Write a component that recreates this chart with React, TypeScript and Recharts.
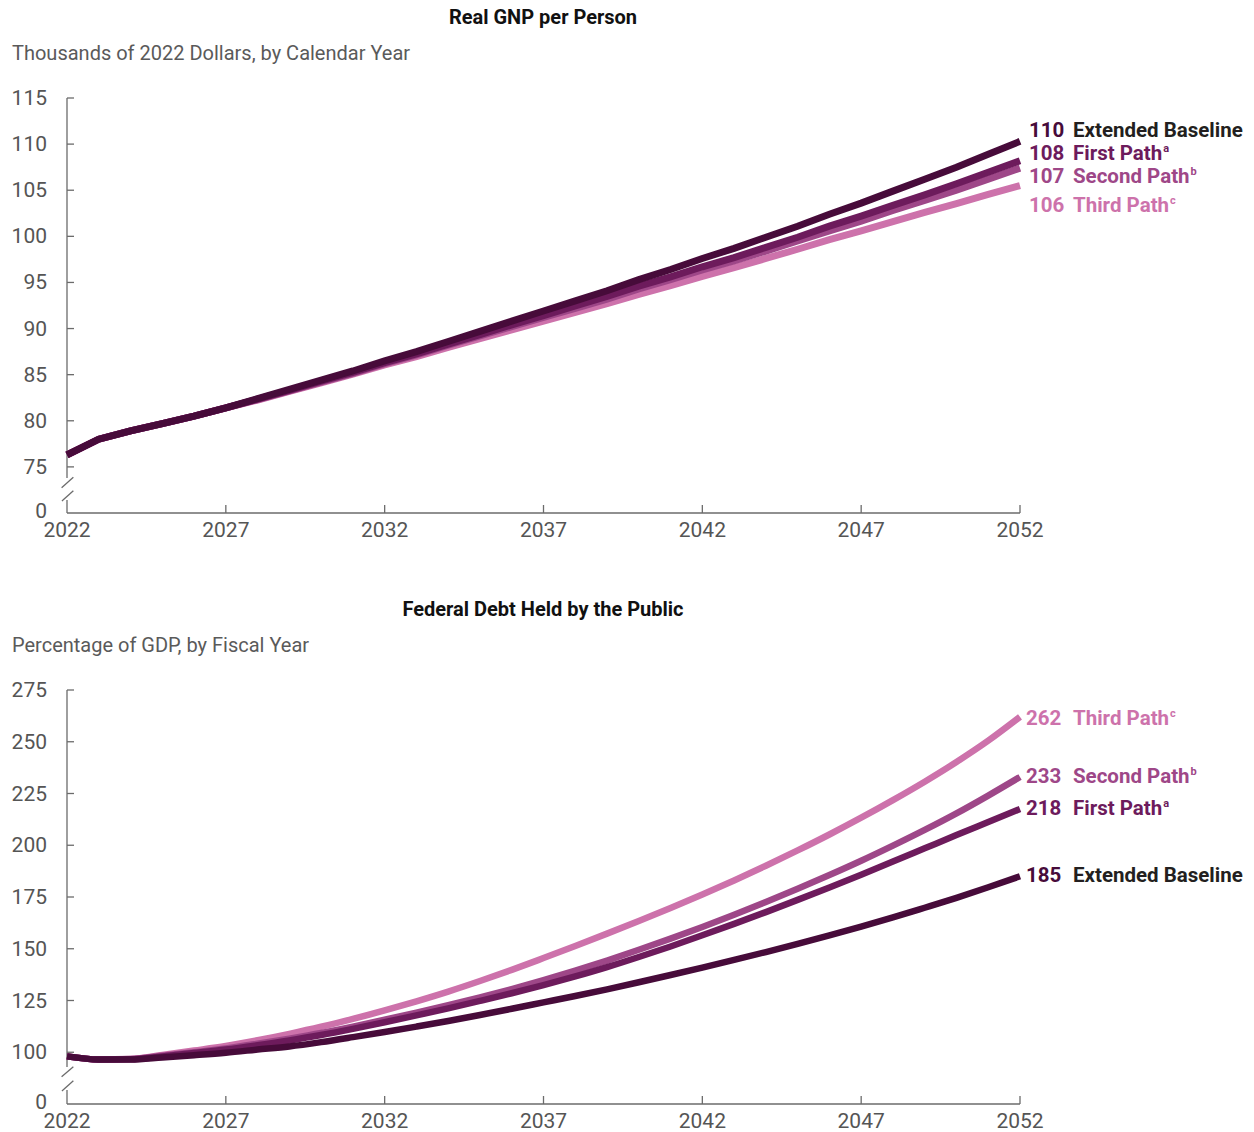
import React from 'react';
import { LineChart, Line, XAxis, YAxis, ReferenceLine } from 'recharts';

const years = [2022, 2023, 2024, 2025, 2026, 2027, 2028, 2029, 2030, 2031, 2032, 2033, 2034, 2035, 2036, 2037, 2038, 2039, 2040, 2041, 2042, 2043, 2044, 2045, 2046, 2047, 2048, 2049, 2050, 2051, 2052];

const gnpBaseline = [76.3, 78.0, 78.9, 79.7, 80.5, 81.4, 82.4, 83.4, 84.4, 85.4, 86.5, 87.5, 88.6, 89.7, 90.8, 91.9, 93.0, 94.1, 95.3, 96.4, 97.6, 98.7, 99.9, 101.1, 102.4, 103.6, 104.9, 106.2, 107.5, 108.9, 110.3];
const gnpFirst = [76.3, 78.0, 78.9, 79.7, 80.5, 81.4, 82.35, 83.3, 84.3, 85.25, 86.3, 87.25, 88.3, 89.35, 90.4, 91.4, 92.45, 93.5, 94.6, 95.6, 96.7, 97.7, 98.8, 99.9, 101.1, 102.2, 103.35, 104.5, 105.7, 106.95, 108.2];
const gnpSecond = [76.3, 78.0, 78.9, 79.7, 80.5, 81.4, 82.3, 83.25, 84.2, 85.15, 86.2, 87.15, 88.2, 89.2, 90.2, 91.2, 92.2, 93.2, 94.3, 95.3, 96.35, 97.35, 98.4, 99.5, 100.6, 101.65, 102.8, 103.9, 105.0, 106.2, 107.4];
const gnpThird = [76.3, 78.0, 78.9, 79.7, 80.5, 81.4, 82.25, 83.2, 84.1, 85.05, 86.05, 86.95, 87.95, 88.9, 89.85, 90.8, 91.75, 92.7, 93.7, 94.65, 95.65, 96.6, 97.6, 98.6, 99.65, 100.6, 101.6, 102.6, 103.55, 104.55, 105.5];

const debtBaseline = [98, 96.5, 96.5, 97.5, 98.6, 99.8, 101.3, 102.8, 104.9, 107.3, 109.8, 112.4, 115.1, 118, 121, 124.1, 127.2, 130.4, 133.8, 137.3, 140.9, 144.6, 148.4, 152.4, 156.5, 160.7, 165.1, 169.8, 174.6, 179.7, 185];
const debtFirst = [98, 96.5, 96.6, 98, 99.6, 101.3, 103.4, 105.7, 108.3, 111.3, 114.5, 117.8, 121.2, 124.8, 128.5, 132.4, 136.6, 141.1, 146, 151.1, 156.5, 162, 167.7, 173.6, 179.6, 185.8, 192.1, 198.5, 204.9, 211.2, 217.5];
const debtSecond = [98, 96.5, 96.7, 98.3, 100, 101.8, 104.1, 106.6, 109.3, 112.4, 115.7, 119.1, 122.7, 126.5, 130.5, 134.8, 139.4, 144.3, 149.5, 154.9, 160.5, 166.4, 172.6, 179, 185.6, 192.5, 199.8, 207.4, 215.4, 224, 233];
const debtThird = [98, 96.5, 96.8, 98.7, 100.8, 103, 105.8, 108.9, 112.3, 116.1, 120.2, 124.6, 129.3, 134.4, 139.8, 145.5, 151.3, 157.3, 163.4, 169.7, 176.2, 183, 190.1, 197.5, 205.2, 213.3, 221.8, 230.7, 240.2, 250.5, 262];

const xTicks = [2022, 2027, 2032, 2037, 2042, 2047, 2052];
const gnpTicks = [70, 75, 80, 85, 90, 95, 100, 105, 110, 115];
const debtTicks = [75, 100, 125, 150, 175, 200, 225, 250, 275];

const seriesNames = ['Extended Baseline', 'First Path', 'Second Path', 'Third Path'];
const seriesSup = ['', 'a', 'b', 'c'];

const C_BASE = '#470b3a';
const C_FIRST = '#6d1b5c';
const C_SECOND = '#9e4788';
const C_THIRD = '#cd72ab';
const AXIS = '#6b6b6b';
const TICKTXT = '#555555';
const FONT = 'Roboto, "Noto Sans", sans-serif';

const gnpData = years.map((y, i) => ({ year: y, base: gnpBaseline[i], first: gnpFirst[i], second: gnpSecond[i], third: gnpThird[i] }));
const debtData = years.map((y, i) => ({ year: y, base: debtBaseline[i], first: debtFirst[i], second: debtSecond[i], third: debtThird[i] }));

const TS = 6;
const TM = 14;

const YTick = (props: any) => {
  const { x, y, payload, bottomValue } = props;
  const axisX = x + TS + TM;
  const isBottom = payload.value === bottomValue;
  return (
    <g>
      {!isBottom && <line x1={axisX} x2={axisX + 7} y1={y} y2={y} stroke={AXIS} strokeWidth={1.3} />}
      <text x={x} y={y} dy={isBottom ? 5 : 7} textAnchor="end" fill={TICKTXT} fontSize={21} fontFamily={FONT}>
        {isBottom ? '0' : payload.value}
      </text>
    </g>
  );
};

const XTick = (props: any) => {
  const { x, y, payload } = props;
  const axisY = y - TS - TM;
  return (
    <g>
      {payload.value !== xTicks[0] && <line x1={x} x2={x} y1={axisY} y2={axisY - 8} stroke={AXIS} strokeWidth={1.3} />}
      <text x={x} y={axisY + 24} textAnchor="middle" fill={TICKTXT} fontSize={21} fontFamily={FONT}>
        {payload.value}
      </text>
    </g>
  );
};

type ChartProps = {
  data: any[];
  ticks: number[];
  domain: [number, number];
  top: number;
  height: number;
  marginTop: number;
  marginBottom: number;
  axisTopEnd: number;
  axisBottomStart: number;
  slash1: [number, number];
  slash2: [number, number];
  strokeWidth: number;
  curve: 'linear' | 'monotone';
};

const Chart = (p: ChartProps) => {
  const lo = p.domain[0];
  const hi = p.domain[1];
  return (
    <div style={{ position: 'absolute', left: 0, top: p.top }}>
      <LineChart width={1254} height={p.height} data={p.data} style={{ overflow: 'visible' }} margin={{ top: p.marginTop, right: 234, bottom: p.marginBottom, left: 7 }}>
        <XAxis
          dataKey="year"
          type="number"
          domain={[xTicks[0], xTicks[xTicks.length - 1]]}
          ticks={xTicks}
          interval={0}
          height={20}
          tickSize={TS}
          tickMargin={TM}
          tickLine={false}
          axisLine={{ stroke: AXIS, strokeWidth: 1.3 }}
          tick={(tp: any) => <XTick {...tp} />}
        />
        <YAxis
          type="number"
          domain={p.domain}
          ticks={p.ticks}
          interval={0}
          width={60}
          tickSize={TS}
          tickMargin={TM}
          tickLine={false}
          axisLine={false}
          allowDataOverflow
          tick={(tp: any) => <YTick {...tp} bottomValue={lo} />}
        />
        <ReferenceLine ifOverflow="visible" stroke={AXIS} strokeWidth={1.3} segment={[{ x: 2022, y: hi }, { x: 2022, y: p.axisTopEnd }]} />
        <ReferenceLine ifOverflow="visible" stroke={AXIS} strokeWidth={1.3} segment={[{ x: 2022, y: p.axisBottomStart }, { x: 2022, y: lo }]} />
        <ReferenceLine ifOverflow="visible" stroke={AXIS} strokeWidth={1.3} segment={[{ x: 2021.83, y: p.slash1[0] }, { x: 2022.2, y: p.slash1[1] }]} />
        <ReferenceLine ifOverflow="visible" stroke={AXIS} strokeWidth={1.3} segment={[{ x: 2021.84, y: p.slash2[0] }, { x: 2022.2, y: p.slash2[1] }]} />
        <Line type={p.curve} dataKey="third" stroke={C_THIRD} strokeWidth={p.strokeWidth} dot={false} isAnimationActive={false} />
        <Line type={p.curve} dataKey="second" stroke={C_SECOND} strokeWidth={p.strokeWidth} dot={false} isAnimationActive={false} />
        <Line type={p.curve} dataKey="first" stroke={C_FIRST} strokeWidth={p.strokeWidth} dot={false} isAnimationActive={false} />
        <Line type={p.curve} dataKey="base" stroke={C_BASE} strokeWidth={p.strokeWidth} dot={false} isAnimationActive={false} />
      </LineChart>
    </div>
  );
};

const colors = [C_BASE, C_FIRST, C_SECOND, C_THIRD];

const EndLabel = (props: { idx: number; value: number; numX: number; cy: number }) => {
  const { idx, value, numX, cy } = props;
  const col = colors[idx];
  const nameCol = idx === 0 ? '#231f20' : col;
  return (
    <div style={{ position: 'absolute', top: cy - 10, left: 0, height: 20, lineHeight: '20px', fontFamily: FONT, fontWeight: 700, fontSize: 20.5, whiteSpace: 'nowrap' }}>
      <span style={{ position: 'absolute', left: numX, color: col }}>{Math.round(value)}</span>
      <span style={{ position: 'absolute', left: 1073, color: nameCol }}>
        {seriesNames[idx]}
        {seriesSup[idx] && <span style={{ fontSize: 11, position: 'relative', top: -8, marginLeft: 1 }}>{seriesSup[idx]}</span>}
      </span>
    </div>
  );
};

export default function App() {
  const gnpLast = [gnpBaseline, gnpFirst, gnpSecond, gnpThird].map((s) => s[s.length - 1]);
  const debtLast = [debtBaseline, debtFirst, debtSecond, debtThird].map((s) => s[s.length - 1]);
  const gnpLabelY = [130, 153, 176, 205];
  const debtLabelY = [875, 808, 776, 718];
  return (
    <div style={{ position: 'absolute', left: 0, top: 0, width: 1254, height: 1132, overflow: 'hidden', background: '#fff' }}>
      <div style={{ position: 'absolute', top: 5, left: 0, width: 1086, textAlign: 'center', fontFamily: FONT, fontWeight: 700, fontSize: 20, color: '#111' }}>
        Real GNP per Person
      </div>
      <div style={{ position: 'absolute', top: 41, left: 12, fontFamily: FONT, fontSize: 20, color: '#5a5a5a' }}>
        Thousands of 2022 Dollars, by Calendar Year
      </div>
      <Chart
        data={gnpData}
        ticks={gnpTicks}
        domain={[70, 115]}
        top={0}
        height={560}
        marginTop={98}
        marginBottom={27}
        axisTopEnd={73.8}
        axisBottomStart={71.4}
        slash1={[72.74, 73.87]}
        slash2={[71.3, 72.42]}
        strokeWidth={7}
        curve="linear"
      />
      {gnpLast.map((v, i) => (
        <EndLabel key={'g' + i} idx={i} value={v} numX={1029} cy={gnpLabelY[i]} />
      ))}
      <div style={{ position: 'absolute', top: 597, left: 0, width: 1086, textAlign: 'center', fontFamily: FONT, fontWeight: 700, fontSize: 20, color: '#111' }}>
        Federal Debt Held by the Public
      </div>
      <div style={{ position: 'absolute', top: 633, left: 12, fontFamily: FONT, fontSize: 20, color: '#5a5a5a' }}>
        Percentage of GDP, by Fiscal Year
      </div>
      <Chart
        data={debtData}
        ticks={debtTicks}
        domain={[75, 275]}
        top={590}
        height={542}
        marginTop={100}
        marginBottom={8}
        axisTopEnd={92.86}
        axisBottomStart={81.8}
        slash1={[88.2, 93.0]}
        slash2={[81.3, 86.2]}
        strokeWidth={6.5}
        curve="monotone"
      />
      {debtLast.map((v, i) => (
        <EndLabel key={'d' + i} idx={i} value={v} numX={1026} cy={debtLabelY[i]} />
      ))}
    </div>
  );
}
